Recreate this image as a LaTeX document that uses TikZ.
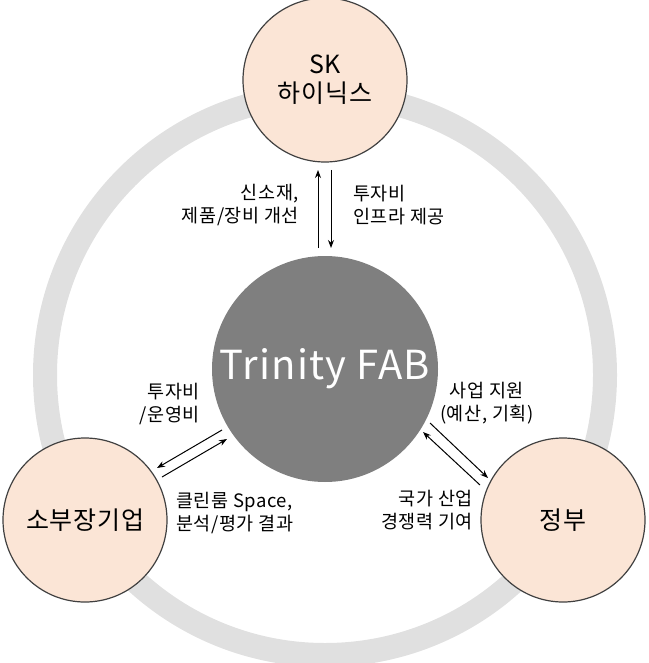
\documentclass[tikz,border=0pt]{standalone}
\usepackage{fontspec}
\setmainfont{Noto Sans CJK KR}[LetterSpace=3]
\usetikzlibrary{arrows.meta}
\definecolor{peach}{HTML}{FBE5D6}
\definecolor{ringgray}{HTML}{E0E0E0}
\definecolor{fabgray}{HTML}{7F7F7F}
\tikzset{
 party/.style={circle,draw=black!75,line width=1.2pt,fill=peach,minimum size=164pt,inner sep=0pt,align=center,font=\fontsize{25}{29}\selectfont},
 lbl/.style={font=\fontsize{18.5}{23}\selectfont,inner sep=0pt},
 arr/.style={-{Stealth[length=8pt,width=6pt]},line width=1pt}
}
\begin{document}
\begin{tikzpicture}[x=1pt,y=-1pt]
\useasboundingbox (0,0) rectangle (648,663);
\draw[ringgray,line width=24pt] (325,375) circle (280);
\node[party] (sk) at (325,80) {SK\\하이닉스};
\node[party] (so) at (85,520) {소부장기업};
\node[party] (gov) at (563,520) {정부};
\node[circle,fill=fabgray,minimum size=226pt,inner sep=0pt,text=white,font=\fontsize{40}{44}\selectfont] (fab) at (325,369) {Trinity FAB};
\coordinate (a1) at (318,248); \coordinate (a2) at (318,170);
\coordinate (b1) at (331,170); \coordinate (b2) at (331,248);
\draw[arr] (a1) -- (a2);
\draw[arr] (b1) -- (b2);
\coordinate (c1) at (222,430); \coordinate (c2) at (157,468);
\coordinate (d1) at (162,477); \coordinate (d2) at (227,439);
\draw[arr] (d1) -- (d2);
\draw[arr] (c1) -- (c2);
\coordinate (e1) at (430,423); \coordinate (e2) at (488,478);
\coordinate (f1) at (480,485); \coordinate (f2) at (423,432);
\draw[arr] (e1) -- (e2);
\draw[arr] (f1) -- (f2);
\node[lbl,align=right,anchor=east] (t1) at (299,205) {신소재,\\제품/장비 개선};
\node[lbl,align=left,anchor=west] (t2) at (353,205) {투자비\\인프라 제공};
\node[lbl,align=right,anchor=east] (t3) at (200,404) {투자비\\/운영비};
\node[lbl,align=left,anchor=west] (t4) at (176,513) {클린룸 Space,\\분석/평가 결과};
\node[lbl,align=center,anchor=west] (t5) at (440,403) {사업 지원\\(예산, 기획)};
\node[lbl,align=right,anchor=east] (t6) at (473,510) {국가 산업\\경쟁력 기여};
\end{tikzpicture}
\end{document}
